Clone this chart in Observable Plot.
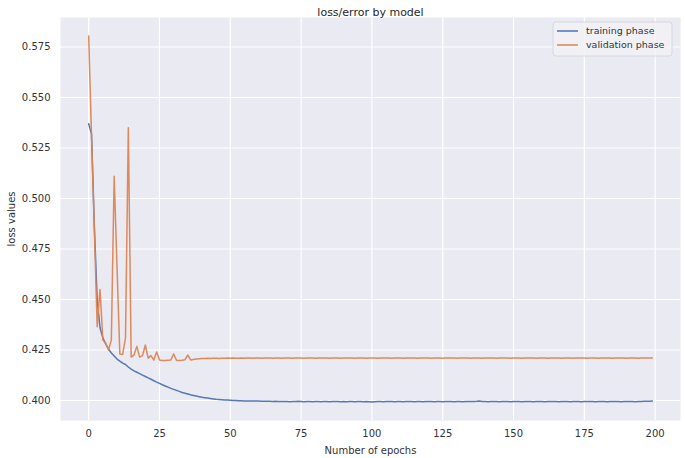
<!DOCTYPE html>
<html>
<head>
<meta charset="utf-8">
<script src="https://cdn.jsdelivr.net/npm/d3@7"></script>
<script src="https://cdn.jsdelivr.net/npm/@observablehq/plot@0.6"></script>
<style>
  html, body { margin: 0; padding: 0; background: #ffffff; }
  svg { display: block; }
</style>
</head>
<body>
<div id="chart"></div>
<script>
const title = "loss/error by model";
const xLabel = "Number of epochs";
const yLabel = "loss values";
const seriesNames = ["training phase", "validation phase"];
const seriesColors = ["#4C72B0", "#DD8452"];
const xTicks = [0, 25, 50, 75, 100, 125, 150, 175, 200];
const yTicks = [0.400, 0.425, 0.450, 0.475, 0.500, 0.525, 0.550, 0.575];

const training = [
  0.5370, 0.5320, 0.4860, 0.4500, 0.4360, 0.4310, 0.4280, 0.4255, 0.4235, 0.4220,
  0.4205, 0.4195, 0.4185, 0.4178, 0.4166, 0.4155, 0.4147, 0.4140, 0.4133, 0.4126,
  0.4119, 0.4112, 0.4105, 0.4098, 0.4091, 0.4085, 0.4078, 0.4072, 0.4066, 0.4060,
  0.4055, 0.4050, 0.4045, 0.4040, 0.4036, 0.4032, 0.4028, 0.4025, 0.4022, 0.4019,
  0.4016, 0.4014, 0.4012, 0.4010, 0.4008, 0.4006, 0.4005, 0.4004, 0.4003, 0.4002,
  0.4001, 0.4000, 0.4000, 0.3999, 0.3999, 0.3998, 0.3998, 0.3998, 0.3997, 0.3997,
  0.3997, 0.3996, 0.3996, 0.3996, 0.3996, 0.3995, 0.3996, 0.3995, 0.3995, 0.3995,
  0.3995, 0.3994, 0.3995, 0.3995, 0.3996, 0.3995, 0.3994, 0.3995, 0.3995, 0.3994,
  0.3995, 0.3995, 0.3994, 0.3995, 0.3995, 0.3994, 0.3995, 0.3995, 0.3995, 0.3994,
  0.3995, 0.3994, 0.3995, 0.3995, 0.3994, 0.3995, 0.3995, 0.3994, 0.3995, 0.3994,
  0.3993, 0.3994, 0.3995, 0.3995, 0.3994, 0.3995, 0.3995, 0.3995, 0.3994, 0.3995,
  0.3995, 0.3994, 0.3995, 0.3995, 0.3995, 0.3994, 0.3995, 0.3995, 0.3994, 0.3995,
  0.3995, 0.3995, 0.3994, 0.3995, 0.3995, 0.3994, 0.3995, 0.3995, 0.3995, 0.3994,
  0.3995, 0.3995, 0.3994, 0.3995, 0.3995, 0.3995, 0.3995, 0.3996, 0.3998, 0.3995,
  0.3995, 0.3994, 0.3995, 0.3995, 0.3995, 0.3994, 0.3995, 0.3995, 0.3995, 0.3994,
  0.3995, 0.3995, 0.3995, 0.3994, 0.3995, 0.3995, 0.3995, 0.3994, 0.3995, 0.3995,
  0.3995, 0.3994, 0.3995, 0.3995, 0.3995, 0.3995, 0.3994, 0.3995, 0.3995, 0.3995,
  0.3994, 0.3995, 0.3995, 0.3995, 0.3994, 0.3995, 0.3995, 0.3995, 0.3995, 0.3994,
  0.3995, 0.3995, 0.3995, 0.3994, 0.3995, 0.3995, 0.3995, 0.3995, 0.3994, 0.3995,
  0.3995, 0.3995, 0.3995, 0.3994, 0.3995, 0.3995, 0.3996, 0.3996, 0.3996, 0.3997
];

const validation = [
  0.5805, 0.5310, 0.4850, 0.4365, 0.4550, 0.4300, 0.4285, 0.4250, 0.4300, 0.5110,
  0.4660, 0.4230, 0.4228, 0.4310, 0.5350, 0.4215, 0.4225, 0.4268, 0.4215, 0.4222,
  0.4275, 0.4210, 0.4222, 0.4200, 0.4240, 0.4200, 0.4198, 0.4198, 0.4199, 0.4200,
  0.4230, 0.4199, 0.4198, 0.4199, 0.4202, 0.4225, 0.4201, 0.4203, 0.4205, 0.4207,
  0.4208, 0.4208, 0.4209, 0.4208, 0.4209, 0.4209, 0.4208, 0.4209, 0.4209, 0.4210,
  0.4209, 0.4210, 0.4209, 0.4209, 0.4210, 0.4209, 0.4210, 0.4210, 0.4209, 0.4210,
  0.4210, 0.4209, 0.4210, 0.4210, 0.4210, 0.4209, 0.4210, 0.4210, 0.4209, 0.4210,
  0.4210, 0.4210, 0.4209, 0.4210, 0.4210, 0.4210, 0.4209, 0.4210, 0.4210, 0.4210,
  0.4209, 0.4210, 0.4210, 0.4210, 0.4210, 0.4209, 0.4210, 0.4210, 0.4210, 0.4209,
  0.4210, 0.4210, 0.4210, 0.4210, 0.4209, 0.4210, 0.4210, 0.4210, 0.4209, 0.4210,
  0.4210, 0.4210, 0.4209, 0.4210, 0.4210, 0.4210, 0.4210, 0.4209, 0.4210, 0.4210,
  0.4210, 0.4209, 0.4210, 0.4210, 0.4210, 0.4210, 0.4209, 0.4210, 0.4210, 0.4210,
  0.4210, 0.4209, 0.4210, 0.4210, 0.4210, 0.4209, 0.4210, 0.4210, 0.4210, 0.4210,
  0.4209, 0.4210, 0.4210, 0.4210, 0.4210, 0.4209, 0.4210, 0.4210, 0.4210, 0.4209,
  0.4210, 0.4210, 0.4210, 0.4210, 0.4209, 0.4210, 0.4210, 0.4210, 0.4210, 0.4209,
  0.4210, 0.4210, 0.4210, 0.4209, 0.4210, 0.4210, 0.4210, 0.4210, 0.4209, 0.4210,
  0.4210, 0.4210, 0.4209, 0.4210, 0.4210, 0.4210, 0.4210, 0.4209, 0.4210, 0.4210,
  0.4210, 0.4209, 0.4210, 0.4210, 0.4210, 0.4210, 0.4209, 0.4210, 0.4210, 0.4210,
  0.4209, 0.4210, 0.4210, 0.4210, 0.4210, 0.4209, 0.4210, 0.4210, 0.4210, 0.4210,
  0.4209, 0.4210, 0.4210, 0.4210, 0.4209, 0.4210, 0.4210, 0.4210, 0.4210, 0.4210
];

const rows = [];
[training, validation].forEach((vals, s) => {
  vals.forEach((v, i) => rows.push({epoch: i, value: v, series: seriesNames[s]}));
});

const W = 685, H = 458;
const M = {top: 17, right: 5, bottom: 38, left: 60};
const textColor = "#333333";

const plot = Plot.plot({
  width: W,
  height: H,
  marginTop: M.top,
  marginRight: M.right,
  marginBottom: M.bottom,
  marginLeft: M.left,
  style: {fontFamily: "DejaVu Sans", fontSize: "9.5px", color: textColor, background: "#ffffff"},
  x: {domain: [-9.95, 208.95]},
  y: {domain: [0.3901, 0.5896]},
  color: {domain: seriesNames, range: seriesColors},
  marks: [
    Plot.frame({fill: "#EAEAF2", stroke: null}),
    Plot.gridX(xTicks, {stroke: "white", strokeOpacity: 1, strokeWidth: 1.2}),
    Plot.gridY(yTicks, {stroke: "white", strokeOpacity: 1, strokeWidth: 1.2}),
    Plot.axisX(xTicks, {tickSize: 0, tickPadding: 9, label: xLabel, labelAnchor: "center", labelArrow: "none", labelOffset: 33, fill: textColor, fontSize: 10}),
    Plot.axisY(yTicks, {tickSize: 0, tickPadding: 10, tickFormat: d3.format(".3f"), label: yLabel, labelAnchor: "center", labelArrow: "none", labelOffset: 53, fill: textColor, fontSize: 10}),
    Plot.line(rows, {x: "epoch", y: "value", z: "series", stroke: "series", strokeWidth: 1.5, strokeOpacity: 0.95}),
    Plot.text([title], {frameAnchor: "top", dy: -9, fontSize: 11, fill: "#262626"})
  ]
});

// legend inside the plot (upper right)
const svg = d3.select(plot);
const lx = W - M.right - 127, ly = M.top + 5;
const lg = svg.append("g").attr("transform", `translate(${lx},${ly})`)
  .attr("font-family", "DejaVu Sans").attr("font-size", "9.5px")
  .attr("text-anchor", "start");
lg.append("rect").attr("x", 0).attr("y", 0).attr("width", 119).attr("height", 34)
  .attr("rx", 3).attr("fill", "#F2F2F6").attr("fill-opacity", 0.85)
  .attr("stroke", "#d6d6de").attr("stroke-width", 1);
seriesNames.forEach((name, i) => {
  const yy = 9 + i * 14;
  lg.append("line").attr("x1", 4).attr("x2", 25).attr("y1", yy).attr("y2", yy)
    .attr("stroke", seriesColors[i]).attr("stroke-width", 1.5);
  lg.append("text").attr("x", 33).attr("y", yy).attr("dy", "0.35em")
    .attr("text-anchor", "start")
    .attr("fill", textColor).text(name);
});

document.getElementById("chart").appendChild(plot);
</script>
</body>
</html>
